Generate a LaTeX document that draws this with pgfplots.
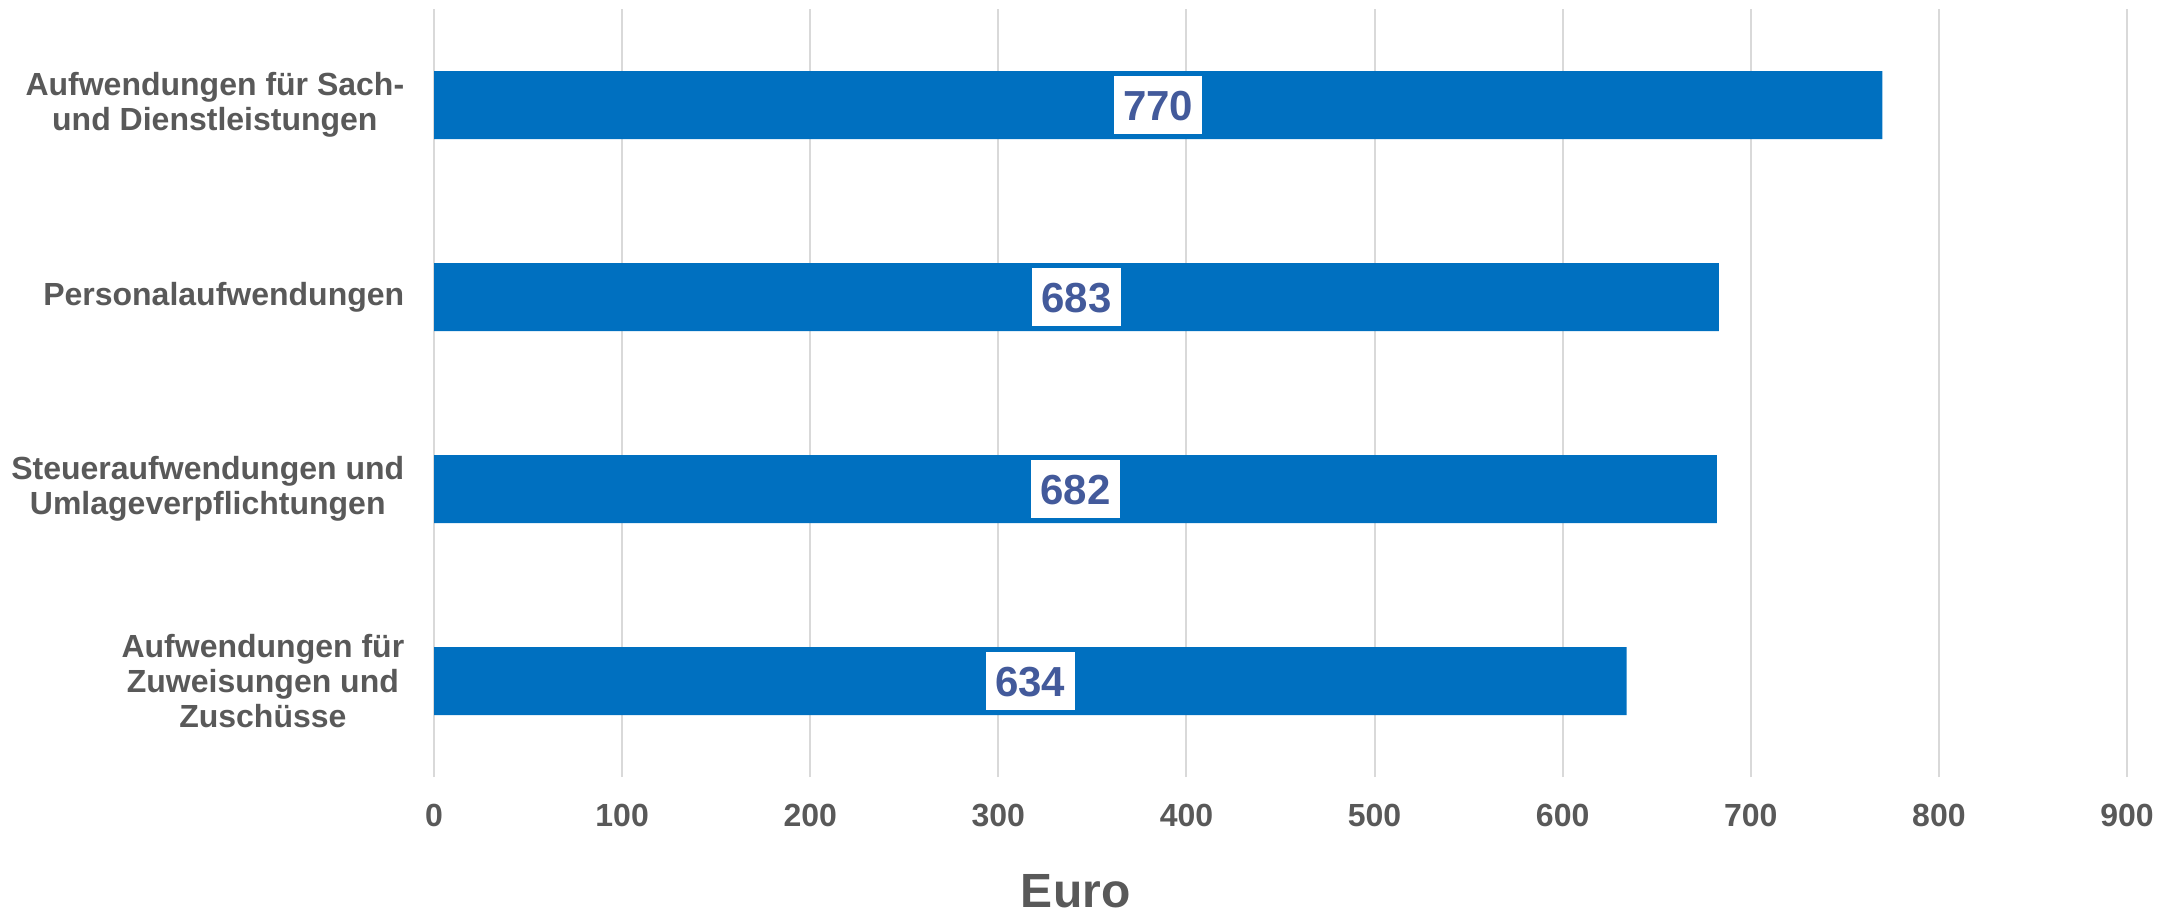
\documentclass[border=0pt]{standalone}
\usepackage{pgfplots}
\pgfplotsset{compat=1.18}
\usepackage{pgfplotstable}
\usepackage{fontspec}
\setmainfont{Liberation Sans}
\definecolor{barblue}{HTML}{0070C0}
\definecolor{txtgray}{HTML}{595959}
\definecolor{gridgray}{HTML}{D9D9D9}
\definecolor{lblblue}{HTML}{435A9B}
\pgfplotstableread{
y v
0 634
1 682
2 683
3 770
}\datatable
\begin{document}
\begin{tikzpicture}
\path[use as bounding box] (0,0) rectangle (545.75pt,228.5pt);
\begin{axis}[
  at={(108.5pt,34.25pt)}, anchor=south west,
  scale only axis, width=423.25pt, height=192pt,
  bar width=17pt,
  xmin=0, xmax=900, ymin=-0.5, ymax=3.5,
  xtick={0,100,...,900},
  ytick={0,1,2,3},
  yticklabels={{Aufwendungen für\\Zuweisungen und\\Zuschüsse},{Steueraufwendungen und\\Umlageverpflichtungen},{Personalaufwendungen},{Aufwendungen für Sach-\\und Dienstleistungen}},
  axis line style={draw=none},
  major tick length=0pt,
  xmajorgrids, grid style={gridgray, line width=0.5pt},
  /pgf/number format/assume math mode=true,
  xticklabel style={font=\fontsize{8}{9.6}\selectfont\bfseries, text=txtgray, anchor=base, yshift=-12.25pt, inner sep=0pt},
  yticklabel style={font=\fontsize{8}{8.8}\selectfont\bfseries, text=txtgray, align=center, anchor=east, inner sep=0pt, xshift=-7.25pt},
  xlabel={Euro},
  xlabel style={font=\fontsize{12}{14}\selectfont\bfseries, text=txtgray, at={(axis description cs:0.379,0)}, anchor=base, yshift=-32.5pt, inner sep=0pt},
  clip=false,
]
\addplot[xbar, fill=barblue, draw=none] table[x=v, y=y] {\datatable};
\addplot[draw=none, mark=none, forget plot, point meta=explicit,
  nodes near coords={\pgfmathprintnumber{\pgfplotspointmeta}},
  nodes near coords align={center},
  nodes near coords style={anchor=center, fill=white, text=lblblue,
    font=\fontsize{10.5}{12}\selectfont\bfseries, inner xsep=2.3pt, inner ysep=3.4pt,
    text height=7.5pt, text depth=0pt}]
  table[x expr=\thisrow{v}/2, y=y, meta=v] {\datatable};
\end{axis}
\end{tikzpicture}
\end{document}
